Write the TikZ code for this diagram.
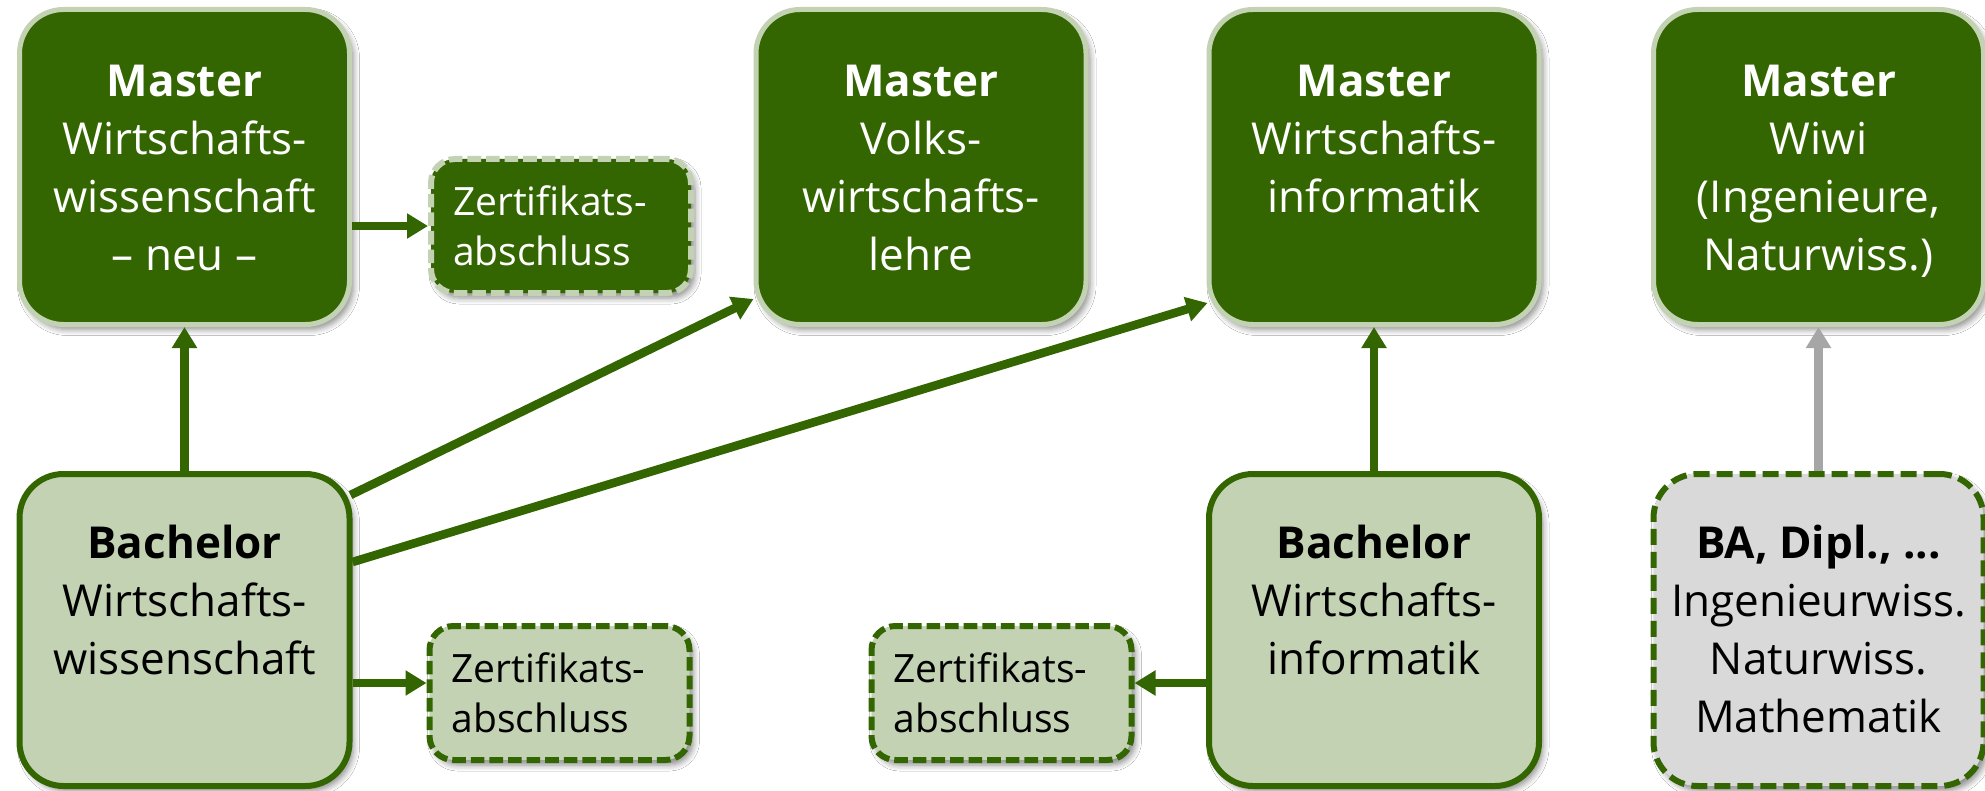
\documentclass[tikz,border=0pt]{standalone}
\usepackage{fontspec}
\setmainfont{Open Sans}
\usetikzlibrary{arrows.meta,shadows.blur,calc}
\definecolor{dgreen}{RGB}{51,102,0}
\definecolor{lgreen}{RGB}{195,210,179}
\definecolor{lgrey}{RGB}{217,217,217}
\definecolor{agrey}{RGB}{166,166,166}
\newcommand{\boxtext}[3]{\parbox[c][#1][t]{165pt}{\centering\rule{0pt}{#2}#3}}
\tikzset{
  shad/.style={blur shadow={shadow xshift=2pt, shadow yshift=-2.5pt, shadow blur radius=3pt, shadow blur steps=6, shadow opacity=45}},
  bigfont/.style={font=\fontsize{22}{29}\selectfont},
  master/.style={shad, draw=lgreen, line width=2.5pt, fill=dgreen, text=white, rounded corners=22pt, inner sep=0pt, bigfont},
  bach/.style={shad, draw=dgreen, line width=3pt, fill=lgreen, text=black, rounded corners=22pt, inner sep=0pt, bigfont},
  greybox/.style={shad, draw=dgreen, line width=3pt, dash pattern=on 8pt off 3.5pt, fill=lgrey, text=black, rounded corners=22pt, inner sep=0pt, bigfont},
  certbase/.style={shad, line width=3pt, dash pattern=on 6.8pt off 2.5pt, rounded corners=12pt, minimum width=130pt, minimum height=67pt, text width=108pt, align=left, inner xsep=11pt, inner ysep=0pt, font=\fontsize{19.5}{25}\selectfont},
  certd/.style={certbase, draw=lgreen, fill=dgreen, text=white},
  certl/.style={certbase, draw=dgreen, fill=lgreen, text=black},
  arr/.style={-{Triangle[length=10.5pt,width=12pt]}, line width=4.3pt, draw=dgreen},
}
\begin{document}
\begin{tikzpicture}[x=0.5pt,y=-0.5pt]
\useasboundingbox[fill=white] (0,0) rectangle (1985,791);
% top row
\node[master] (M1) at (184.5,167) {\boxtext{157.5pt}{43.75pt}{\textbf{Master}\\Wirtschafts-\\wissenschaft\\– neu –}};
\node[master] (M2) at (921,167) {\boxtext{157.5pt}{43.75pt}{\textbf{Master}\\Volks-\\wirtschafts-\\lehre}};
\node[master] (M3) at (1374,167) {\boxtext{157.5pt}{43.75pt}{\textbf{Master}\\Wirtschafts-\\informatik}};
\node[master] (M4) at (1818.5,167) {\boxtext{157.5pt}{43.75pt}{\textbf{Master}\\Wiwi\\(Ingenieure,\\Naturwiss.)}};
\node[certd] (C1) at (561,226) {Zertifikats-\\abschluss};
% bottom row
\node[bach] (B1) at (184.5,630) {\boxtext{156pt}{42pt}{\textbf{Bachelor}\\Wirtschafts-\\wissenschaft}};
\node[bach] (B2) at (1374,630) {\boxtext{156pt}{42pt}{\textbf{Bachelor}\\Wirtschafts-\\informatik}};
\node[greybox] (G) at (1818.5,630) {\boxtext{156pt}{42pt}{\textbf{BA, Dipl., ...}\\Ingenieurwiss.\\Naturwiss.\\Mathematik}};
\node[certl] (C2) at (559.5,693) {Zertifikats-\\abschluss};
\node[certl] (C3) at (1001.5,693) {Zertifikats-\\abschluss};
% helper coordinates
\coordinate (C2a) at ($(C2.west)+(0,-10)$);
\coordinate (C3a) at ($(C3.east)+(0,-10)$);
\coordinate (S2) at ($(B1.north east)+(-2,24)$);
\coordinate (E2) at ($(M2.south west)+(0,-28)$);
\coordinate (S3) at ($(B1.north east)+(0,91)$);
\coordinate (E3) at ($(M3.south west)+(1,-24)$);
% connectors
\draw[arr] (B1) -- (M1);
\draw[arr] (M1.east |- C1.west) -- (C1.west);
\draw[arr] (B1.east |- C2a) -- (C2a);
\draw[arr] (S2) -- (E2);
\draw[arr] (S3) -- (E3);
\draw[arr] (B2) -- (M3);
\draw[arr] (B2.west |- C3a) -- (C3a);
\draw[arr, draw=agrey] (G) -- (M4);
\end{tikzpicture}
\end{document}
